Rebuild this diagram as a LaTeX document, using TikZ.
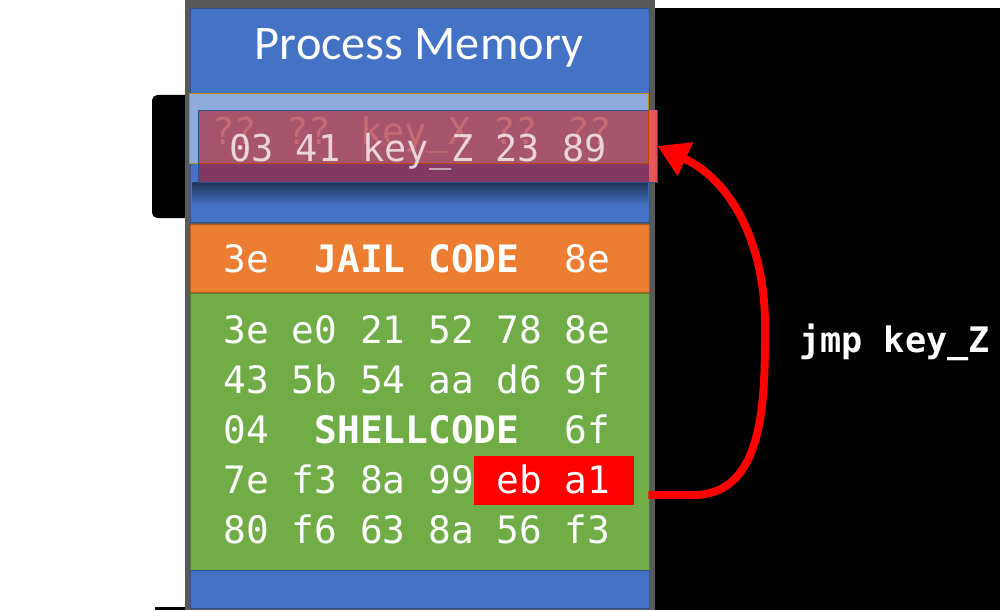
\documentclass[tikz,border=0pt]{standalone}
\usepackage{fontspec}
\usepackage{tikz}
\usetikzlibrary{arrows.meta}
\newfontfamily\hexfont{DejaVu Sans Mono}
\newfontfamily\titlefont{Carlito}
\definecolor{memblue}{HTML}{4472C4}
\definecolor{memblueline}{HTML}{2F528F}
\definecolor{keyblue}{HTML}{8FAADC}
\definecolor{keygold}{HTML}{BF9000}
\definecolor{jailorange}{HTML}{ED7D31}
\definecolor{jailline}{HTML}{AE5A21}
\definecolor{shellgreen}{HTML}{70AD47}
\definecolor{shellline}{HTML}{507E32}
\definecolor{framegray}{HTML}{595959}
\definecolor{keyred}{HTML}{C00000}
\definecolor{ghost}{RGB}{205,215,235}

\begin{document}
\begin{tikzpicture}[
  hexrow/.style={anchor=base, white, font=\hexfont\fontsize{21.5}{24}\selectfont},
  keyrow/.style={anchor=base, font=\hexfont\fontsize{21}{24}\selectfont},
  jump/.style={red, line width=4.5pt, -{Triangle[length=0.62cm,width=0.7cm]}}
]
\useasboundingbox (0,0) rectangle (20,12.2);
%\draw [help lines] (0,0) grid (20,12);

% background
\fill [white] (0,0) rectangle (20,12.2);
\fill [black] (13.1,0) rectangle (20,12.04);
\fill [black, rounded corners=3pt] (3.04,7.84) rectangle (3.9,10.3);
\fill [black] (3.1,0) rectangle (3.8,0.06);

% memory column
\fill [framegray] (3.7,0) rectangle (13.1,12.2);
\draw [memblueline, fill=memblue] (3.8,7.76) rectangle (12.98,12.04);
\node (title) [white, anchor=base, font=\titlefont\fontsize{27.5}{30}\selectfont] at (8.38,11.0) {Process Memory};

  % old key
\draw [keygold, fill=keyblue] (3.78,8.94) rectangle (12.96,10.34);
\node (keyX) [keyrow, ghost] at (8.24,9.32) {?? ?? key\_X ?? ??};

  % new key laid over it
\shade [top color=memblue!45!black, bottom color=memblue] (3.85,8.1) rectangle (12.96,8.56);
\node (keyZ) [draw=memblueline, fill=keyred, fill opacity=0.5, minimum width=9.18cm, minimum height=1.44cm, inner sep=0pt] at (8.55,9.28) {};
\fill [red!60!white, opacity=0.8] (12.98,8.56) rectangle (13.14,10.0);
\node (keyZtext) [keyrow, white, text opacity=0.75] at (8.36,8.96) {03 41 key\_Z 23 89};

% jail code
\draw [jailline, fill=jailorange] (3.8,6.36) rectangle (12.98,7.72);
\node (jail) [hexrow] at (8.34,6.76) {3e\ \ \textbf{JAIL CODE}\ \ 8e};

% shellcode
\draw [shellline, fill=shellgreen] (3.8,0.8) rectangle (12.98,6.34);
\node (ebA) [fill=red, minimum width=3.2cm, minimum height=0.98cm, inner sep=0pt] at (11.08,2.59) {};
\node (row1) [hexrow] at (8.34,5.34) {3e e0 21 52 78 8e};
\node (row2) [hexrow] at (8.34,4.34) {43 5b 54 aa d6 9f};
\node (row3) [hexrow] at (8.34,3.34) {04\ \ \textbf{SHELLCODE}\ \ 6f};
\node (row4) [hexrow] at (8.34,2.34) {7e f3 8a 99 eb a1};
\node (row5) [hexrow] at (8.34,1.34) {80 f6 63 8a 56 f3};

% bottom
\draw [memblueline, fill=memblue] (3.8,0.04) rectangle (12.98,0.8);

% jump back to the key
\draw [jump] ([shift={(0.28,-0.29)}]ebA.east) -- ++(0.9,0) to [out=0, in=-90] (15.3,5.7) to [out=90, in=-25] (keyZ.east);
\node (jmp) [white, anchor=base west, font=\hexfont\bfseries\fontsize{20}{24}\selectfont] at (15.86,5.16) {jmp key\_Z};

\end{tikzpicture}
\end{document}
